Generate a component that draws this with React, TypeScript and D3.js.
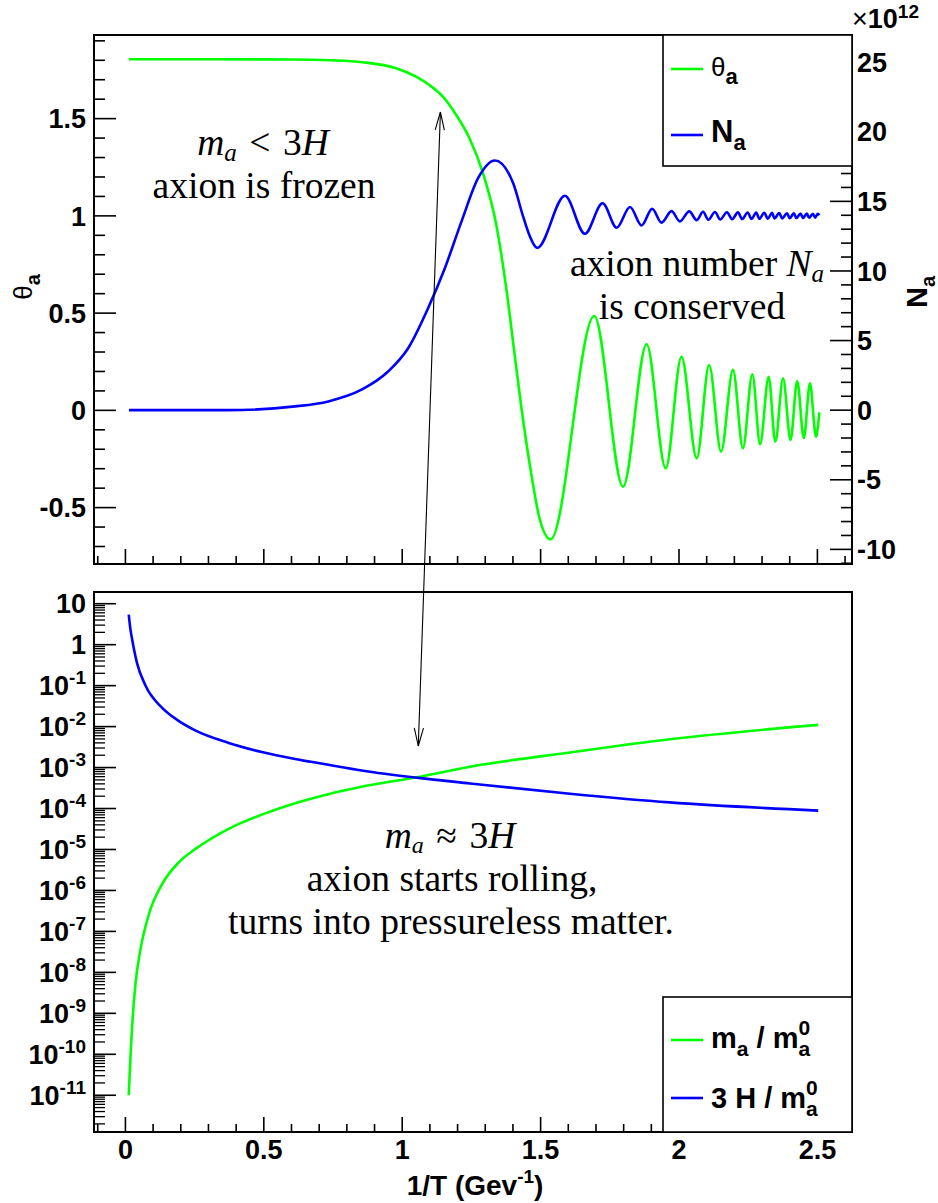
import React from 'react';
import * as d3 from 'd3';

const W = 938;
const H = 1203;

// ---------- data ----------
// top panel: theta_a versus 1/T
const thetaX = [0.013, 0.3, 0.6, 0.74, 0.857, 0.978, 1.05, 1.098, 1.147, 1.195, 1.243, 1.292, 1.34, 1.376, 1.405, 1.43, 1.461, 1.497, 1.536,
  1.694, 1.798, 1.883, 1.952, 2.009, 2.064, 2.109, 2.152, 2.195, 2.231, 2.265, 2.293, 2.324, 2.348, 2.376, 2.403, 2.427, 2.451, 2.473, 2.495, 2.507];
const thetaY = [1.805, 1.805, 1.804, 1.8, 1.79, 1.759, 1.716, 1.673, 1.613, 1.519, 1.399, 1.219, 0.953, 0.627, 0.3, 0.02, -0.28, -0.56, -0.663,
  0.485, -0.392, 0.34, -0.298, 0.276, -0.246, 0.233, -0.212, 0.208, -0.195, 0.186, -0.174, 0.173, -0.161, 0.165, -0.152, 0.151, -0.143, 0.139, -0.135, -0.01];

// top panel: N_a (units of 1e12) versus 1/T
const naX = [0.013, 0.371, 0.612, 0.733, 0.853, 0.949, 1.022, 1.094, 1.154, 1.215, 1.275, 1.335, 1.401, 1.437, 1.461, 1.488,
  1.588, 1.66, 1.724, 1.775, 1.823, 1.865, 1.903, 1.937, 1.973, 2.003, 2.037, 2.064,
  2.087, 2.106, 2.13, 2.149, 2.173, 2.192, 2.213, 2.228, 2.248, 2.262, 2.279, 2.29, 2.308, 2.321, 2.336, 2.345, 2.362, 2.373,
  2.39, 2.4, 2.415, 2.424, 2.439, 2.448, 2.462, 2.47, 2.484, 2.492, 2.501, 2.507];
const naY = [0, 0, 0.27, 0.63, 1.47, 2.78, 4.47, 7.35, 10.2, 13.6, 16.7, 17.94, 16.3, 13.9, 12.5, 11.66,
  15.4, 12.67, 14.86, 13.1, 14.6, 13.27, 14.47, 13.47, 14.3, 13.56, 14.28, 13.65,
  14.25, 13.68, 14.24, 13.7, 14.22, 13.72, 14.21, 13.73, 14.2, 13.74, 14.19, 13.75, 14.18, 13.76, 14.17, 13.77, 14.16, 13.78,
  14.15, 13.79, 14.14, 13.8, 14.13, 13.81, 14.12, 13.82, 14.11, 13.83, 14.1, 14.0];

// bottom panel: m_a / m_a^0 and 3H / m_a^0 versus 1/T
const massX = [0.012, 0.018, 0.024, 0.036, 0.054, 0.084, 0.132, 0.192, 0.252, 0.373, 0.493, 0.613, 0.733, 0.853, 1.058, 1.245, 1.606, 1.966, 2.503];
const massY = [1.0e-11, 7.9e-11, 4.5e-10, 5.0e-9, 3.5e-8, 2.5e-7, 1.4e-6, 4.8e-6, 1.02e-5, 3.2e-5, 7.1e-5, 1.35e-4, 2.24e-4, 3.4e-4, 5.9e-4, 1.05e-3, 2.34e-3, 4.9e-3, 1.1e-2];
const hubX = [0.012, 0.018, 0.024, 0.042, 0.072, 0.132, 0.192, 0.252, 0.373, 0.493, 0.613, 0.733, 0.853, 1.058, 1.245, 1.606, 1.966, 2.503];
const hubY = [5.4, 2.4, 1.38, 0.355, 0.102, 0.029, 0.0138, 8.1e-3, 4.0e-3, 2.4e-3, 1.62e-3, 1.17e-3, 8.5e-4, 5.6e-4, 4.1e-4, 2.3e-4, 1.41e-4, 8.9e-5];

// tick labels
const xTicks = [0, 0.5, 1, 1.5, 2, 2.5];
const xTickLabels = ['0', '0.5', '1', '1.5', '2', '2.5'];
const thetaTicks = [-0.5, 0, 0.5, 1, 1.5];
const thetaTickLabels = ['-0.5', '0', '0.5', '1', '1.5'];
const naTicks = [-10, -5, 0, 5, 10, 15, 20, 25];
const naTickLabels = ['-10', '-5', '0', '5', '10', '15', '20', '25'];
const logExps = [1, 0, -1, -2, -3, -4, -5, -6, -7, -8, -9, -10, -11];

// ---------- layout ----------
const FX0 = 94, FX1 = 852;
const T0 = 35, T1 = 564;
const B0 = 592, B1 = 1132;

const GREEN = '#00ff00';
const BLUE = '#0000ff';
const SANS = "'Liberation Sans', Arial, Helvetica, sans-serif";
const SERIF = "'Liberation Serif', 'Times New Roman', serif";

export default function App() {
  const x = d3.scaleLinear().domain([-0.1135, 2.625]).range([FX0, FX1]);
  const yT = d3.scaleLinear().domain([-0.79, 1.93]).range([T1, T0]);
  const yN = d3.scaleLinear().domain([-11.05, 26.95]).range([T1, T0]);
  const yL = d3.scaleLog().domain([Math.pow(10, -11.897), Math.pow(10, 1.286)]).range([B1, B0]);

  const thetaLine = d3.line<number>().x((_, i) => x(thetaX[i])).y((d) => yT(d)).curve(d3.curveMonotoneX);
  const naLine = d3.line<number>().x((_, i) => x(naX[i])).y((d) => yN(d)).curve(d3.curveMonotoneX);
  const massLine = d3.line<number>().x((_, i) => x(massX[i])).y((d) => yL(d)).curve(d3.curveMonotoneX);
  const hubLine = d3.line<number>().x((_, i) => x(hubX[i])).y((d) => yL(d)).curve(d3.curveMonotoneX);

  const xMinor = d3.range(-1, 27).map((k) => k / 10).filter((v) => Math.abs(v * 2 - Math.round(v * 2)) > 1e-6);
  const thMinor = d3.range(-7, 20).map((k) => k / 10).filter((v) => Math.abs(v * 2 - Math.round(v * 2)) > 1e-6);
  const naMinor = d3.range(-11, 27).filter((v) => v % 5 !== 0);
  const logMinor: number[] = [];
  for (let e = -12; e <= 1; e++) {
    for (let m = 2; m <= 9; m++) {
      const v = m * Math.pow(10, e);
      const [lo, hi] = yL.domain();
      if (v > lo && v < hi) logMinor.push(v);
    }
  }

  // annotation arrow in data coordinates
  const arrowTop = [x(1.138), yT(1.534)];
  const arrowBot = [x(1.058), yL(3.36e-3)];
  const dx = arrowBot[0] - arrowTop[0];
  const dy = arrowBot[1] - arrowTop[1];
  const len = Math.sqrt(dx * dx + dy * dy);
  const ux = dx / len, uy = dy / len;
  const head = (tx: number, ty: number, dir: number) => {
    const L = 18, Wd = 4.6;
    const bx = tx + dir * ux * L, by = ty + dir * uy * L;
    return `M${bx - uy * Wd},${by + ux * Wd}L${tx},${ty}L${bx + uy * Wd},${by - ux * Wd}`;
  };

  const tickStroke = '#000';

  const xAxisTicks = (yb: number) => (
    <g>
      {xTicks.map((v) => (
        <line key={'M' + v} x1={x(v)} x2={x(v)} y1={yb} y2={yb - 15} stroke={tickStroke} strokeWidth={1.6} />
      ))}
      {xMinor.map((v) => (
        <line key={'m' + v} x1={x(v)} x2={x(v)} y1={yb} y2={yb - 8} stroke={tickStroke} strokeWidth={1.6} />
      ))}
    </g>
  );

  return (
    <svg width={W} height={H} viewBox={`0 0 ${W} ${H}`} style={{ position: 'absolute', left: 0, top: 0, background: '#fff' }}>
      <rect x={0} y={0} width={W} height={H} fill="#fff" />

      {/* ---------------- top panel ---------------- */}
      <rect x={FX0} y={T0} width={FX1 - FX0} height={T1 - T0} fill="#fff" stroke="#000" strokeWidth={2} />
      {thetaTicks.map((v) => (
        <line key={'tM' + v} x1={FX0} x2={FX0 + 22} y1={yT(v)} y2={yT(v)} stroke={tickStroke} strokeWidth={1.6} />
      ))}
      {thMinor.map((v) => (
        <line key={'tm' + v} x1={FX0} x2={FX0 + 11} y1={yT(v)} y2={yT(v)} stroke={tickStroke} strokeWidth={1.6} />
      ))}
      {naTicks.map((v) => (
        <line key={'nM' + v} x1={FX1} x2={FX1 - 22} y1={yN(v)} y2={yN(v)} stroke={tickStroke} strokeWidth={1.6} />
      ))}
      {naMinor.map((v) => (
        <line key={'nm' + v} x1={FX1} x2={FX1 - 11} y1={yN(v)} y2={yN(v)} stroke={tickStroke} strokeWidth={1.6} />
      ))}
      {xAxisTicks(T1)}

      <g fontFamily={SANS} fontWeight="bold" fontSize={27} fill="#000">
        {thetaTicks.map((v, i) => (
          <text key={'tl' + v} x={86} y={yT(v)} dy="0.36em" textAnchor="end">{thetaTickLabels[i]}</text>
        ))}
        {naTicks.map((v, i) => (
          <text key={'nl' + v} x={857} y={yN(v)} dy="0.36em" textAnchor="start">{naTickLabels[i]}</text>
        ))}
        <text x={852} y={28}>
          <tspan fontWeight="normal">×</tspan>
          <tspan>10</tspan>
          <tspan fontSize={19} dy={-10}>12</tspan>
        </text>
        <text transform="translate(32,287) rotate(-90)" textAnchor="middle">
          <tspan fontWeight="normal" fontSize={26}>θ</tspan>
          <tspan fontSize={20} dy={8}>a</tspan>
        </text>
        <text transform="translate(927,292) rotate(-90)" textAnchor="middle">
          <tspan fontSize={29}>N</tspan>
          <tspan fontSize={20} dy={8}>a</tspan>
        </text>
      </g>

      <path d={thetaLine(thetaY) || ''} fill="none" stroke={GREEN} strokeWidth={2.6} strokeLinejoin="round" />
      <path d={naLine(naY) || ''} fill="none" stroke={BLUE} strokeWidth={2.6} strokeLinejoin="round" />

      {/* top legend */}
      <rect x={663} y={T0} width={FX1 - 663} height={131} fill="#fff" stroke="#000" strokeWidth={1.6} />
      <line x1={671} x2={703} y1={69} y2={69} stroke={GREEN} strokeWidth={2.6} />
      <line x1={671} x2={703} y1={135} y2={135} stroke={BLUE} strokeWidth={2.6} />
      <g fontFamily={SANS} fontWeight="bold" fill="#000">
        <text x={711} y={76}>
          <tspan fontWeight="normal" fontSize={26}>θ</tspan>
          <tspan fontSize={22} dy={8}>a</tspan>
        </text>
        <text x={711} y={142}>
          <tspan fontSize={31}>N</tspan>
          <tspan fontSize={22} dy={8}>a</tspan>
        </text>
      </g>

      {/* ---------------- bottom panel ---------------- */}
      <rect x={FX0} y={B0} width={FX1 - FX0} height={B1 - B0} fill="#fff" stroke="#000" strokeWidth={2} />
      {logExps.map((e) => (
        <line key={'lM' + e} x1={FX0} x2={FX0 + 22} y1={yL(Math.pow(10, e))} y2={yL(Math.pow(10, e))} stroke={tickStroke} strokeWidth={1.6} />
      ))}
      {logMinor.map((v, i) => (
        <line key={'lm' + i} x1={FX0} x2={FX0 + 11} y1={yL(v)} y2={yL(v)} stroke={tickStroke} strokeWidth={1.3} />
      ))}
      {xAxisTicks(B1)}

      <g fontFamily={SANS} fontWeight="bold" fontSize={27} fill="#000">
        {logExps.map((e) => (
          <text key={'ll' + e} x={86} y={yL(Math.pow(10, e))} dy="0.36em" textAnchor="end">
            {e === 1 ? '10' : e === 0 ? '1' : (
              <>
                <tspan>10</tspan>
                <tspan fontSize={19} dy={-11}>{String(e)}</tspan>
              </>
            )}
          </text>
        ))}
        {xTicks.map((v, i) => (
          <text key={'xl' + v} x={x(v)} y={1159} textAnchor="middle">{xTickLabels[i]}</text>
        ))}
        <text x={475} y={1195} textAnchor="middle" fontSize={28}>
          <tspan>1/T (Gev</tspan>
          <tspan fontSize={19} dy={-12}>-1</tspan>
          <tspan dy={12}>)</tspan>
        </text>
      </g>

      <path d={massLine(massY) || ''} fill="none" stroke={GREEN} strokeWidth={2.6} strokeLinejoin="round" />
      <path d={hubLine(hubY) || ''} fill="none" stroke={BLUE} strokeWidth={2.6} strokeLinejoin="round" />

      {/* bottom legend */}
      <rect x={663} y={997} width={FX1 - 663} height={B1 - 997} fill="#fff" stroke="#000" strokeWidth={1.6} />
      <line x1={671} x2={703} y1={1040} y2={1040} stroke={GREEN} strokeWidth={2.6} />
      <line x1={671} x2={703} y1={1098} y2={1098} stroke={BLUE} strokeWidth={2.6} />
      <g fontFamily={SANS} fontWeight="bold" fill="#000" fontSize={29}>
        <text x={711} y={1048}>
          <tspan>m</tspan>
          <tspan fontSize={21} dy={8}>a</tspan>
          <tspan dy={-8}> / m</tspan>
          <tspan fontSize={21} dy={8}>a</tspan>
          <tspan fontSize={21} dx={-11.7} dy={-21}>0</tspan>
        </text>
        <text x={711} y={1108}>
          <tspan>3 H / m</tspan>
          <tspan fontSize={21} dy={8}>a</tspan>
          <tspan fontSize={21} dx={-11.7} dy={-21}>0</tspan>
        </text>
      </g>

      {/* ---------------- annotations ---------------- */}
      <g fontFamily={SERIF} fontSize={37.5} fill="#000">
        <text x={263} y={155} textAnchor="middle">
          <tspan fontStyle="italic">m</tspan>
          <tspan fontStyle="italic" fontSize={25} dy={6}>a</tspan>
          <tspan dy={-6}>{'\u2004<\u20043'}</tspan>
          <tspan fontStyle="italic">H</tspan>
        </text>
        <text x={264} y={198} textAnchor="middle">axion is frozen</text>
        <text x={697} y={276} textAnchor="middle">
          <tspan>axion number </tspan>
          <tspan fontStyle="italic">N</tspan>
          <tspan fontStyle="italic" fontSize={25} dy={6}>a</tspan>
        </text>
        <text x={692} y={319} textAnchor="middle">is conserved</text>
        <text x={450} y={848} textAnchor="middle">
          <tspan fontStyle="italic">m</tspan>
          <tspan fontStyle="italic" fontSize={24} dy={5}>a</tspan>
          <tspan dy={-5}>{'\u2004≈\u20043'}</tspan>
          <tspan fontStyle="italic">H</tspan>
        </text>
        <text x={452} y={891} textAnchor="middle">axion starts rolling,</text>
        <text x={451} y={934} textAnchor="middle">turns into pressureless matter.</text>
      </g>

      <line x1={arrowTop[0]} y1={arrowTop[1]} x2={arrowBot[0]} y2={arrowBot[1]} stroke="#000" strokeWidth={1.1} />
      <path d={head(arrowTop[0], arrowTop[1], 1)} fill="none" stroke="#000" strokeWidth={1.1} />
      <path d={head(arrowBot[0], arrowBot[1], -1)} fill="none" stroke="#000" strokeWidth={1.1} />
    </svg>
  );
}
